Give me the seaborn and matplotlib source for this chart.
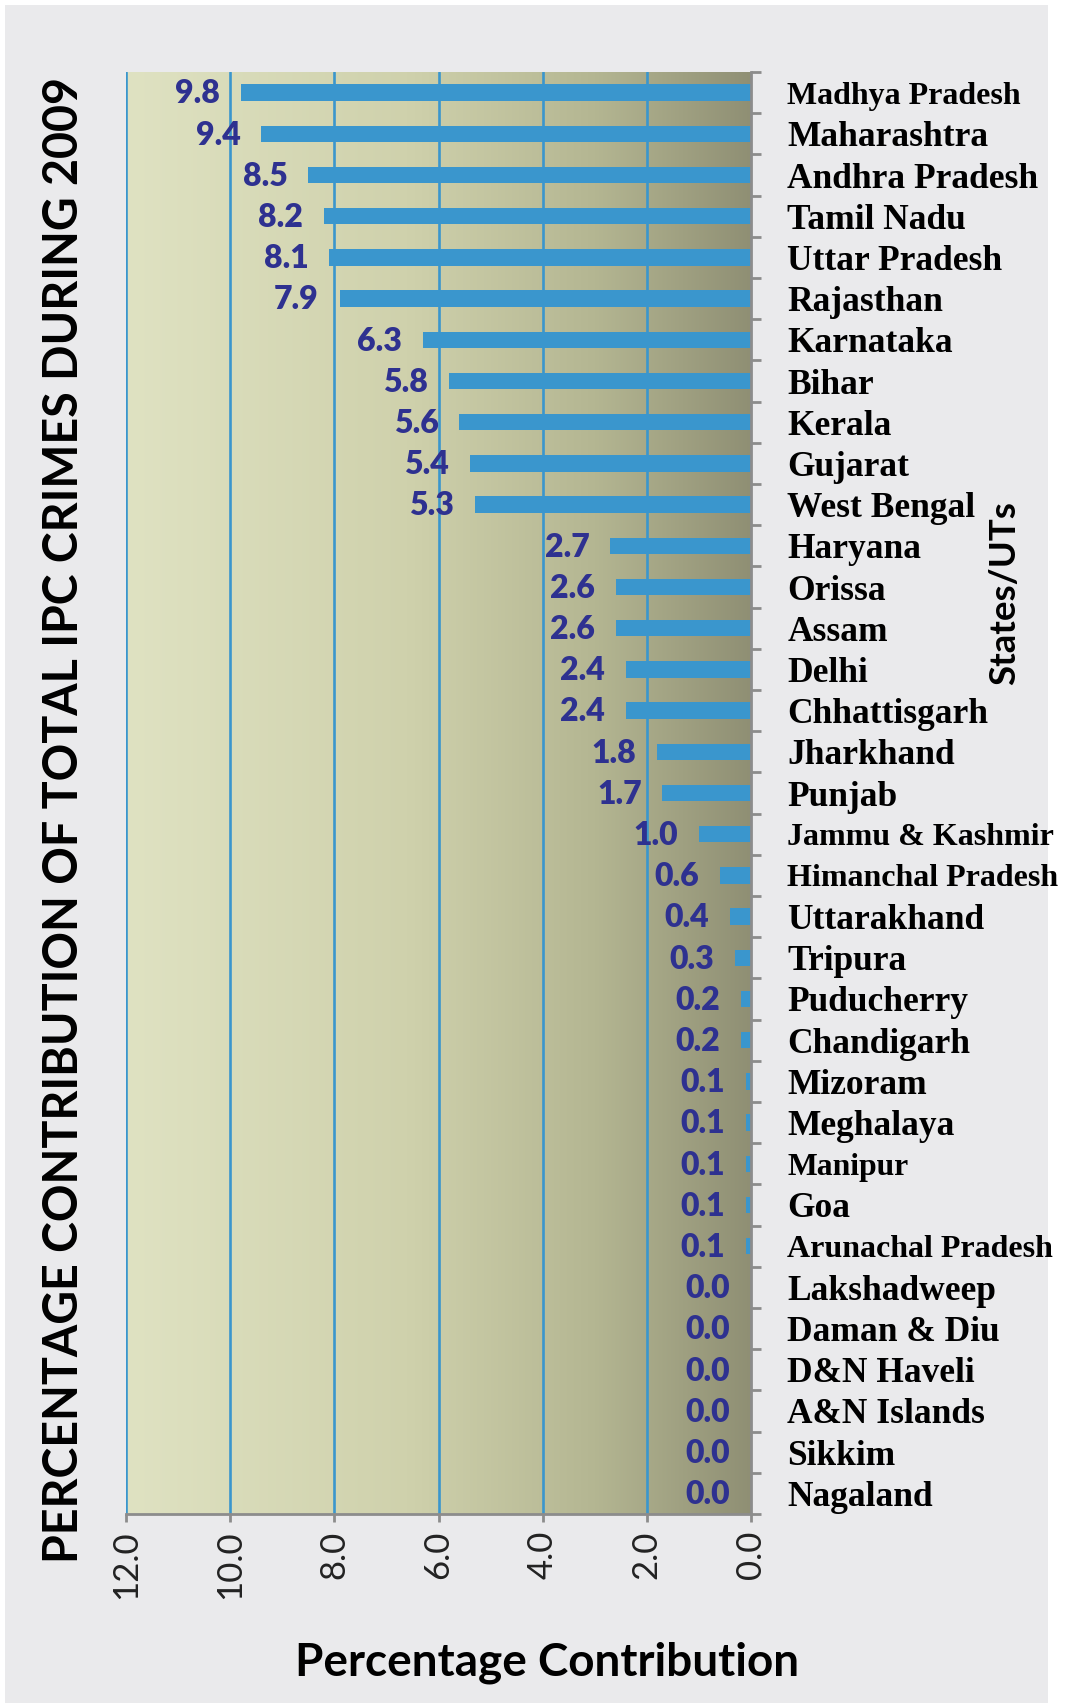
import numpy as np
import pandas as pd
import matplotlib
matplotlib.use('Agg')
import matplotlib.pyplot as plt
import seaborn as sns
from matplotlib.colors import LinearSegmentedColormap
from matplotlib.patches import Rectangle

# data
states = ['Madhya Pradesh', 'Maharashtra', 'Andhra Pradesh', 'Tamil Nadu', 'Uttar Pradesh',
          'Rajasthan', 'Karnataka', 'Bihar', 'Kerala', 'Gujarat', 'West Bengal', 'Haryana',
          'Orissa', 'Assam', 'Delhi', 'Chhattisgarh', 'Jharkhand', 'Punjab', 'Jammu & Kashmir',
          'Himanchal Pradesh', 'Uttarakhand', 'Tripura', 'Puducherry', 'Chandigarh', 'Mizoram',
          'Meghalaya', 'Manipur', 'Goa', 'Arunachal Pradesh', 'Lakshadweep', 'Daman & Diu',
          'D&N Haveli', 'A&N Islands', 'Sikkim', 'Nagaland']
share = [9.8, 9.4, 8.5, 8.2, 8.1, 7.9, 6.3, 5.8, 5.6, 5.4, 5.3, 2.7, 2.6, 2.6, 2.4, 2.4,
         1.8, 1.7, 1.0, 0.6, 0.4, 0.3, 0.2, 0.2, 0.1, 0.1, 0.1, 0.1, 0.1, 0.0, 0.0, 0.0,
         0.0, 0.0, 0.0]
x_ticks = [12, 10, 8, 6, 4, 2, 0]

df = pd.DataFrame({'state': states, 'share': share})

sns.set_style('white')
plt.rcParams['font.family'] = ['Lato', 'DejaVu Sans']

BLUE = '#3A96CD'
NAVY = '#2E3190'
GREY = '#8C8C8C'

fig = plt.figure(figsize=(10.65, 17.03), dpi=100)
fig.patch.set_facecolor('white')
# marble-ish backdrop
backdrop = Rectangle((0.005, 0), 0.979, 0.9968, transform=fig.transFigure,
                     facecolor='#EAEAEC', edgecolor='none', zorder=-10)
fig.add_artist(backdrop)

ax = fig.add_axes([0.1183, 0.1110, 0.5869, 0.8467])
ax.set_zorder(1)

# gradient plot area
cmap = LinearSegmentedColormap.from_list(
    'bg', [(0.0, '#DFE2C2'), (0.45, '#CFD1AC'), (0.75, '#B4B692'), (1.0, '#8F8F74')])
ax.imshow(np.linspace(0, 1, 256).reshape(1, -1), cmap=cmap, aspect='auto',
          extent=[0, 1, 0, 1], transform=ax.transAxes, zorder=0)

sns.barplot(data=df, x='share', y='state', orient='h', color=BLUE, saturation=1,
            width=0.4, linewidth=0, edgecolor=BLUE, ax=ax, zorder=3)

ax.set_xlim(12, 0)
ax.set_ylim(len(states) - 0.5, -0.5)
ax.set_xticks(x_ticks)
ax.set_xticklabels([f'{t:.1f}' for t in x_ticks], rotation=90, fontsize=25, color='#222222')
for t in x_ticks[:-1]:
    ax.axvline(t, color=BLUE, lw=1.9, zorder=2)

# value labels
for i, v in enumerate(share):
    ax.text(v + 0.4, i + 0.03, f'{v:.1f}', ha='right', va='center', fontsize=23,
            fontweight='heavy', color=NAVY, zorder=4)

# state labels on the right
ax.yaxis.tick_right()
ax.set_yticks(range(len(states)))
ax.set_yticks(np.arange(-0.5, len(states)), minor=True)
ax.tick_params(axis='y', which='major', length=0, pad=26)
ax.tick_params(axis='y', which='minor', length=7, width=2, color=GREY, right=True, left=False)
ax.tick_params(axis='x', which='major', length=6, width=2, color=GREY, pad=6, bottom=True)
small = {'Madhya Pradesh': 23, 'Himanchal Pradesh': 23, 'Arunachal Pradesh': 23,
         'Jammu & Kashmir': 23, 'Manipur': 22.8}
ax.set_yticklabels(states)
for lab in ax.get_yticklabels():
    lab.set_fontfamily('Liberation Serif')
    lab.set_fontweight('bold')
    lab.set_fontsize(small.get(lab.get_text(), 25.5))
    lab.set_color('black')

ax.set_xlabel('')
ax.set_ylabel('')
for side in ['top', 'left']:
    ax.spines[side].set_visible(False)
for side in ['bottom', 'right']:
    ax.spines[side].set_color(GREY)
    ax.spines[side].set_linewidth(2)
    ax.spines[side].set_zorder(5)

fig.text(0.060, 0.5185, 'PERCENTAGE CONTRIBUTION OF TOTAL IPC CRIMES DURING 2009',
         rotation=90, ha='center', va='center', fontsize=33.6, fontweight='bold', color='black')
fig.text(0.943, 0.652, 'States/UTs', rotation=90, ha='center', va='center',
         fontsize=26.4, fontweight='bold', color='black')
fig.text(0.514, 0.0235, 'Percentage Contribution', ha='center', va='center',
         fontsize=33, fontweight='bold', color='black')

fig.savefig('out.png', dpi=100)
